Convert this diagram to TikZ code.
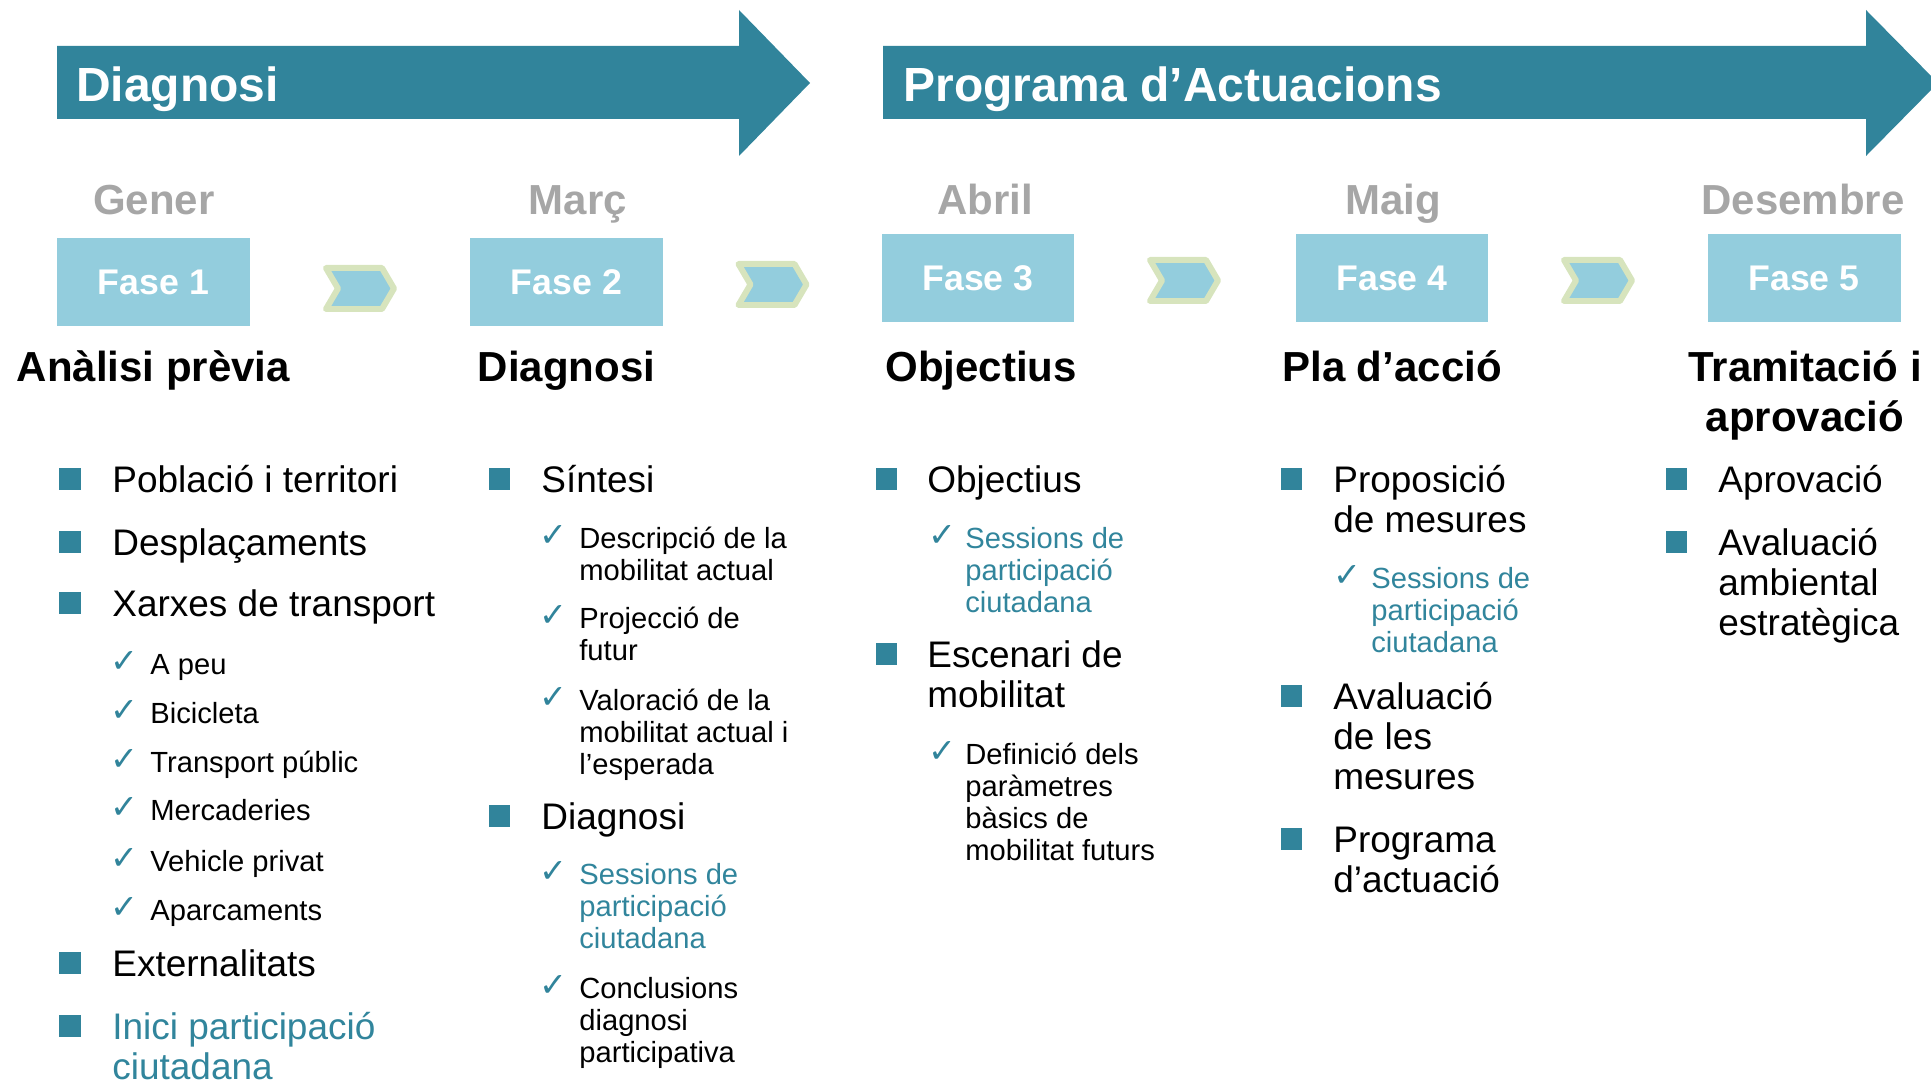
\documentclass[tikz,border=0pt]{standalone}
\usepackage{fontspec}
\setmainfont{Liberation Sans}
\newfontfamily\symfont{DejaVu Sans}
\usepackage{xcolor}
\usetikzlibrary{positioning,calc}

\definecolor{tealdark}{HTML}{31849B}
\definecolor{tealtext}{HTML}{31859C}
\definecolor{faseblue}{HTML}{93CDDD}
\definecolor{chevgreen}{HTML}{D7E4BD}
\definecolor{monthgray}{HTML}{A6A6A6}

\begin{document}
\begin{tikzpicture}[x=0.02cm, y=-0.02cm,
    bigarrow/.style={fill=tealdark, draw=none},
    arrowtitle/.style={anchor=base west, inner sep=0, text=white, font=\bfseries\fontsize{27.3}{30}\selectfont},
    month/.style={anchor=base, inner sep=0, text=monthgray, font=\bfseries\fontsize{23.9}{28}\selectfont},
    fase/.style={fill=faseblue, text=white, minimum width=3.86cm, minimum height=1.78cm, inner sep=0, font=\bfseries\fontsize{20.3}{24}\selectfont},
    chev/.style={fill=faseblue, draw=chevgreen, line width=0.12cm, line join=round},
    heading/.style={anchor=north, inner sep=0, align=center, yshift=0.4cm, font=\bfseries\fontsize{23.9}{28.5}\selectfont},
    sq/.style={fill=tealdark, minimum size=0.43cm, inner sep=0},
    item/.style={anchor=north west, inner sep=0, align=left, yshift=0.3cm, font=\fontsize{21.05}{22.8}\selectfont},
    sub/.style={anchor=north west, inner sep=0, align=left, yshift=0.24cm, font=\fontsize{16.6}{18.2}\selectfont},
    chk/.style={text=tealdark, inner sep=0, yshift=0.04cm, font=\symfont\fontsize{19}{19}\selectfont},
    civic/.style={text=tealtext}]
    \useasboundingbox (0,0) rectangle (1931,1081);

    % Big phase arrows
    \draw[bigarrow] (57,46) -- (739,46) -- (739,10) -- (810,83) -- (739,156) -- (739,119) -- (57,119) -- cycle;
    \node[arrowtitle] (diag) at (76,102) {Diagnosi};
    \draw[bigarrow] (883,46) -- (1866,46) -- (1866,10) -- (1938,83) -- (1866,156) -- (1866,119) -- (883,119) -- cycle;
    \node[arrowtitle] (prog) at (903,102) {Programa d’Actuacions};

    % Months
    \node[month] (m1) at (154,215) {Gener};
    \node[month] (m2) at (578,215) {Març};
    \node[month] (m3) at (985,215) {Abril};
    \node[month] (m4) at (1393,215) {Maig};
    \node[month] (m5) at (1803,215) {Desembre};

    % Phase boxes
    \node[fase] (f1) at (153.5,282) {Fase 1};
    \node[fase] (f2) at (566.5,282) {Fase 2};
    \node[fase] (f3) at (978,278) {Fase 3};
    \node[fase] (f4) at (1392,278) {Fase 4};
    \node[fase] (f5) at (1804,278) {Fase 5};

    % Chevrons between phases
    \foreach \cx/\cy in {360/288.5, 772.5/284.5, 1184/280.5, 1598/280.5}{
        \draw[chev] (\cx-34,\cy-20.5) -- ++(56,0) -- ++(12,20.5) -- ++(-12,20.5) -- ++(-56,0) -- ++(12,-20.5) -- cycle;
    }

    % Headings
    \node[heading] (h1) at (153.5,366) {\strut Anàlisi prèvia};
    \node[heading] (h2) at (566.5,366) {\strut Diagnosi};
    \node[heading] (h3) at (981,366) {\strut Objectius};
    \node[heading] (h4) at (1392,366) {\strut Pla d’acció};
    \node[heading] (h5) at (1805,366) {\strut Tramitació i\\aprovació};

    % Fase 1
    \node[sq] (s11) at (70,479) {};
    \node[item] (t11) at (112,479) {\strut Població i territori};
    \node[sq] (s12) at (70,542) {};
    \node[item] (t12) at (112,542) {\strut Desplaçaments};
    \node[sq] (s13) at (70,603) {};
    \node[item] (t13) at (112,603) {\strut Xarxes de transport};
    \foreach \y/\txt [count=\i] in {664/A peu, 713/Bicicleta, 762/Transport públic, 810/Mercaderies, 861/Vehicle privat, 910/Aparcaments}{
        \node[chk] (c1\i) at (124,\y) {✓};
        \node[sub] (u1\i) at (150,\y) {\strut \txt};
    }
    \node[sq] (s14) at (70,963) {};
    \node[item] (t14) at (112,963) {\strut Externalitats};
    \node[sq] (s15) at (70,1026) {};
    \node[item, civic] (t15) at (112,1026) {\strut Inici participació\\ciutadana};

    % Fase 2
    \node[sq] (s21) at (499.5,479) {};
    \node[item] (t21) at (541,479) {\strut Síntesi};
    \node[chk] (c21) at (553,538) {✓};
    \node[sub] (u21) at (579,538) {\strut Descripció de la\\mobilitat actual};
    \node[chk] (c22) at (553,618) {✓};
    \node[sub] (u22) at (579,618) {\strut Projecció de\\futur};
    \node[chk] (c23) at (553,700) {✓};
    \node[sub] (u23) at (579,700) {\strut Valoració de la\\mobilitat actual i\\l’esperada};
    \node[sq] (s22) at (499.5,816) {};
    \node[item] (t22) at (541,816) {\strut Diagnosi};
    \node[chk] (c24) at (553,874) {✓};
    \node[sub, civic] (u24) at (579,874) {\strut Sessions de\\participació\\ciutadana};
    \node[chk] (c25) at (553,988) {✓};
    \node[sub] (u25) at (579,988) {\strut Conclusions\\diagnosi\\participativa};

    % Fase 3
    \node[sq] (s31) at (886.5,479) {};
    \node[item] (t31) at (927,479) {\strut Objectius};
    \node[chk] (c31) at (942,538) {✓};
    \node[sub, civic] (u31) at (965,538) {\strut Sessions de\\participació\\ciutadana};
    \node[sq] (s32) at (886.5,654) {};
    \node[item] (t32) at (927,654) {\strut Escenari de\\mobilitat};
    \node[chk] (c32) at (942,754) {✓};
    \node[sub] (u32) at (965,754) {\strut Definició dels\\paràmetres\\bàsics de\\mobilitat futurs};

    % Fase 4
    \node[sq] (s41) at (1291.5,479) {};
    \node[item] (t41) at (1333,479) {\strut Proposició\\de mesures};
    \node[chk] (c41) at (1347,578) {✓};
    \node[sub, civic] (u41) at (1371,578) {\strut Sessions de\\participació\\ciutadana};
    \node[sq] (s42) at (1291.5,696) {};
    \node[item] (t42) at (1333,696) {\strut Avaluació\\de les\\mesures};
    \node[sq] (s43) at (1291.5,839) {};
    \node[item] (t43) at (1333,839) {\strut Programa\\d’actuació};

    % Fase 5
    \node[sq] (s51) at (1676.5,479) {};
    \node[item] (t51) at (1718,479) {\strut Aprovació};
    \node[sq] (s52) at (1676.5,542) {};
    \node[item] (t52) at (1718,542) {\strut Avaluació\\ambiental\\estratègica};
\end{tikzpicture}
\end{document}
